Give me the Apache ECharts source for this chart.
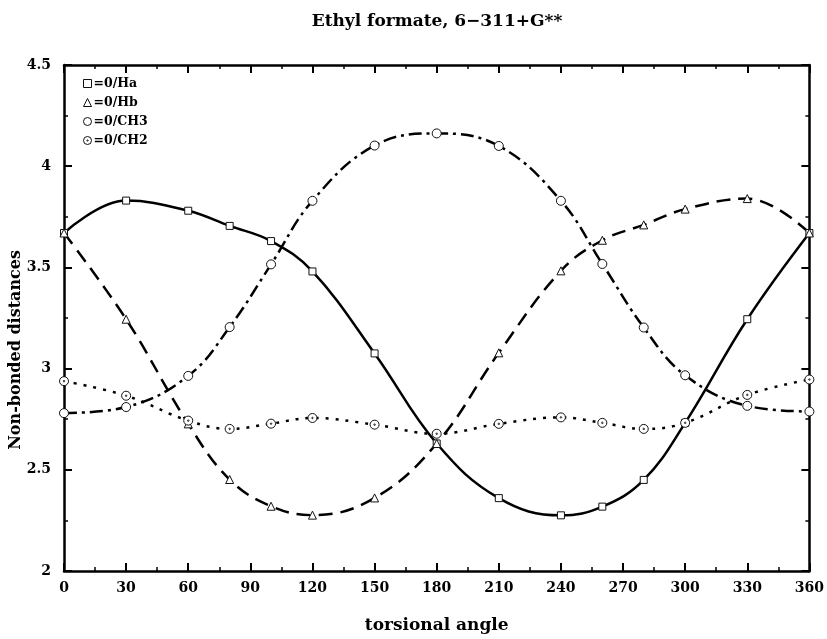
<!DOCTYPE html>
<html>
<head>
<meta charset="utf-8">
<script src="https://cdn.jsdelivr.net/npm/echarts@6/dist/echarts.min.js"></script>
<style>
  html, body { margin: 0; padding: 0; background: #fff; }
  #chart { width: 827px; height: 639px; }
</style>
</head>
<body>
<div id="chart"></div>
<script>
// Torsional scan of ethyl formate: non-bonded distances (Å) vs. torsion angle (deg)
const angles = [0, 30, 60, 80, 100, 120, 150, 180, 210, 240, 260, 280, 300, 330, 360];
const distHa  = [3.67, 3.83, 3.78, 3.705, 3.63, 3.48, 3.075, 2.63, 2.36, 2.275, 2.318, 2.45, 2.732, 3.244, 3.67];
const distHb  = [3.67, 3.244, 2.727, 2.452, 2.32, 2.276, 2.361, 2.63, 3.078, 3.483, 3.634, 3.71, 3.788, 3.84, 3.67];
const distCH3 = [2.78, 2.81, 2.964, 3.205, 3.515, 3.829, 4.102, 4.162, 4.10, 3.829, 3.517, 3.203, 2.967, 2.816, 2.788];
const distCH2 = [2.938, 2.866, 2.743, 2.702, 2.728, 2.756, 2.723, 2.678, 2.727, 2.759, 2.732, 2.702, 2.732, 2.87, 2.946];

const seriesNames = ['=0/Ha', '=0/Hb', '=0/CH3', '=0/CH2'];
const xTicks = { min: 0, max: 360, step: 30 };
const yTicks = { min: 2, max: 4.5, step: 0.5 };

const FONT = "'DejaVu Serif'";
const dotCircle = 'path://M0,-10A10,10 0 1,1 0,10A10,10 0 1,1 0,-10ZM0,-1.6A1.6,1.6 0 1,1 0,1.6A1.6,1.6 0 1,1 0,-1.6Z';

function pairs(ys) { return angles.map((a, i) => [a, ys[i]]); }

const markerStyle = { color: '#fff', borderColor: '#111', borderWidth: 1 };

function axisBase(isX, show) {
  return {
    type: 'value',
    min: isX ? xTicks.min : yTicks.min,
    max: isX ? xTicks.max : yTicks.max,
    interval: isX ? xTicks.step : yTicks.step,
    axisLine: { show: true, onZero: false, lineStyle: { color: '#000', width: 2.5 } },
    axisTick: { show: true, inside: true, length: 8, lineStyle: { color: '#000', width: 2 } },
    minorTick: { show: true, splitNumber: 2, length: 4, lineStyle: { color: '#000', width: 1.5 } },
    splitLine: { show: false },
    axisLabel: {
      show: show, color: '#000', fontFamily: FONT, fontWeight: 'bold', fontSize: 14,
      margin: isX ? 10 : 13
    }
  };
}

const chart = echarts.init(document.getElementById('chart'), null, { renderer: 'canvas' });

chart.setOption({
  animation: false,
  backgroundColor: '#fff',
  legend: {
    orient: 'vertical',
    left: 78,
    top: 72,
    itemGap: 6,
    itemWidth: 8,
    itemHeight: 8,
    selectedMode: false,
    lineStyle: { width: 0, opacity: 0 },
    itemStyle: { color: '#fff', borderColor: '#111', borderWidth: 1 },
    textStyle: { fontFamily: FONT, fontWeight: 'bold', fontSize: 12.5, color: '#000', padding: [0, 0, 0, -3] },
    data: [
      { name: seriesNames[0], icon: 'rect' },
      { name: seriesNames[1], icon: 'triangle' },
      { name: seriesNames[2], icon: 'circle' },
      { name: seriesNames[3], icon: dotCircle }
    ]
  },
  grid: { left: 64, right: 17, top: 65, bottom: 61 },
  xAxis: [
    Object.assign(axisBase(true, true), {
      position: 'bottom',
      name: 'torsional angle',
      nameLocation: 'middle',
      nameGap: 46,
      nameTextStyle: { fontFamily: FONT, fontWeight: 'bold', fontSize: 17, color: '#000' }
    }),
    Object.assign(axisBase(true, false), { position: 'top' })
  ],
  yAxis: [
    Object.assign(axisBase(false, true), { position: 'left' }),
    Object.assign(axisBase(false, false), { position: 'right' })
  ],
  graphic: [
    {
      // chart title, centred over the plotting area
      type: 'text',
      x: 437,
      y: 13,
      style: {
        text: 'Ethyl formate, 6\u2212311+G**', textAlign: 'center', textVerticalAlign: 'top',
        fontFamily: FONT, fontWeight: 'bold', fontSize: 17, fill: '#000'
      }
    },
    {
      type: 'text',
      left: 8,
      top: 250,
      rotation: Math.PI / 2,
      style: { text: 'Non-bonded distances', fontFamily: FONT, fontWeight: 'bold', fontSize: 16, fill: '#000' }
    }
  ],
  series: [
    {
      name: seriesNames[0], type: 'line', smooth: 0.4, data: pairs(distHa),
      symbol: 'rect', symbolSize: 7, itemStyle: markerStyle,
      lineStyle: { color: '#000', width: 2.5, type: 'solid' }, z: 3
    },
    {
      name: seriesNames[1], type: 'line', smooth: 0.4, data: pairs(distHb),
      symbol: 'triangle', symbolSize: 8, itemStyle: markerStyle,
      lineStyle: { color: '#000', width: 2.5, type: [14, 8] }, z: 3
    },
    {
      name: seriesNames[2], type: 'line', smooth: 0.4, data: pairs(distCH3),
      symbol: 'circle', symbolSize: 9, itemStyle: markerStyle,
      lineStyle: { color: '#000', width: 2.5, type: [13, 5, 3, 5] }, z: 3
    },
    {
      name: seriesNames[3], type: 'line', smooth: 0.4, data: pairs(distCH2),
      symbol: dotCircle, symbolSize: 9, itemStyle: markerStyle,
      lineStyle: { color: '#000', width: 2.5, type: [3, 7] }, z: 3
    }
  ]
});
</script>
</body>
</html>
